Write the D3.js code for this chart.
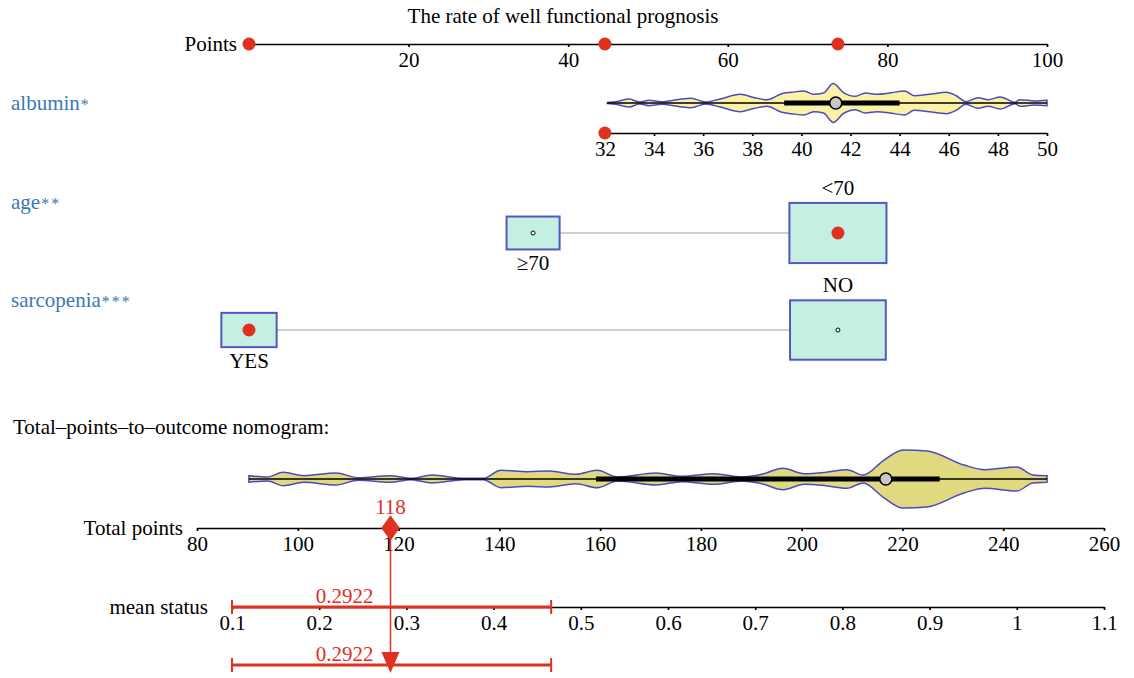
<!DOCTYPE html>
<html>
<meta charset="utf-8">
<style>
body { margin: 0; background: #fff; }
svg text { font-family: 'Liberation Serif', 'DejaVu Serif', serif; font-size: 21px; }
.axis path, .axis line { stroke: #000; stroke-width: 1.7px; }
.axis text { fill: #000; font-size: 21px; font-family: 'Liberation Serif', serif; }
.varlab { fill: #3b78b2; }
.star { font-size: 16px; letter-spacing: 2px; }
.red { fill: #e0301e; }
</style>
<body>
<svg id="chart" width="1134" height="678"></svg>
<script src="https://d3js.org/d3.v7.min.js"></script>
<script>

// ---- data ----
var pointTicks = [20, 40, 60, 80, 100];
var albuminTicks = [32, 34, 36, 38, 40, 42, 44, 46, 48, 50];
var totalTicks = [80, 100, 120, 140, 160, 180, 200, 220, 240, 260];
var meanTicks = [0.1, 0.2, 0.3, 0.4, 0.5, 0.6, 0.7, 0.8, 0.9, 1, 1.1];

// albumin 32..50 maps to points 44.6..100
var albuminRange = [32, 50];
var albuminPoints = [44.6, 100];
// albumin distribution [value, relative density]
var albuminDensity = [
  [32.1, 0.5], [32.5, 1.5], [33.0, 4], [33.4, 1], [33.8, 2.7], [34.3, 1.3],
  [35.0, 3.5], [35.5, 4.7], [36.1, 1], [36.7, 4], [37.5, 8.7], [38.1, 5.3],
  [38.6, 3.3], [39.2, 9.3], [39.6, 10.7], [40.1, 12], [40.5, 8.7], [40.9, 10],
  [41.3, 19.5], [41.7, 10.7], [42.2, 6.7], [42.6, 10], [43.1, 8.7], [43.6, 10],
  [44.2, 12], [44.6, 7.3], [45.2, 8.7], [45.9, 10.7], [46.3, 7.3], [46.7, 1.3],
  [47.2, 5.3], [47.6, 3.3], [48.1, 6], [48.7, 0.7], [48.9, 3.3], [49.5, 2], [50, 2.7]
];
var albuminBox = { q1: 39.3, median: 41.4, q3: 44.0 };

var ageLevels = ["≥70", "<70"];
var agePoints = [35.6, 73.8];
var ageShare = [0.23, 0.77];

var sarcLevels = ["YES", "NO"];
var sarcPoints = [0, 73.8];
var sarcShare = [0.25, 0.75];

// the case shown in red
var chosenAlbumin = 32;
var chosenAge = 1;   // "<70"
var chosenSarc = 0;  // "YES"

// total points distribution [total, relative density]
var totalDensity = [
  [90.3, 3.3], [94, 2], [97.1, 6.7], [101.2, 3.3], [107.6, 6], [112.0, 1.3],
  [118.3, 3.3], [122.5, 0.7], [126.6, 4], [133.0, 0.7], [136.8, 0.7], [140.3, 8.7],
  [145.7, 7.3], [149.9, 8], [155.2, 4.7], [159.4, 8.7], [163.5, 2], [171.1, 6],
  [176.2, 2.7], [182.6, 5.3], [188.0, 2], [192.1, 4.7], [196.3, 10.7], [200.5, 5.3],
  [204.8, 6.7], [209.0, 9.3], [212.2, 4], [216.3, 18.7], [220.1, 29], [224.9, 28],
  [232.2, 14], [236.4, 9.3], [242.7, 12], [245.9, 4], [248.7, 3.3]
];
var totalBox = { q1: 159.2, median: 216.7, q3: 227.4 };

var meanValue = 0.2922;
var meanCI = [0.1, 0.466];

// ---- layout ----
var svg = d3.select("#chart");

var pts = d3.scaleLinear().domain([0, 100]).range([249, 1047]);
var alb = d3.scaleLinear().domain(albuminRange).range(albuminPoints.map(pts));
var tot = d3.scaleLinear().domain([80, 260]).range([197, 1104]);
var mean = d3.scaleLinear().domain([0.1, 1.1]).range([232, 1104]);

var red = "#e0301e";
var violinStroke = "#4a4ac0";

function albToPts(v) {
  return albuminPoints[0] + (v - albuminRange[0]) / (albuminRange[1] - albuminRange[0]) * (albuminPoints[1] - albuminPoints[0]);
}

var chosenPts = [albToPts(chosenAlbumin), agePoints[chosenAge], sarcPoints[chosenSarc]];
var totalChosen = d3.sum(chosenPts);

// title
svg.append("text")
    .attr("x", 563).attr("y", 23)
    .attr("text-anchor", "middle")
    .text("The rate of well functional prognosis");

function drawAxis(scale, ticks, y, fmt) {
  svg.append("g")
      .attr("class", "axis")
      .attr("transform", "translate(0," + y + ")")
      .call(d3.axisBottom(scale).tickValues(ticks).tickSize(3).tickSizeOuter(0).tickFormat(fmt || d3.format("d")))
      .call(function(g) { g.selectAll("text").attr("y", 8); });
}

// Points axis
drawAxis(pts, pointTicks, 44);
svg.append("text").attr("x", 237).attr("y", 51).attr("text-anchor", "end").text("Points");
svg.selectAll(".ptdot")
    .data(chosenPts)
  .enter().append("circle")
    .attr("cx", function(d) { return pts(d); })
    .attr("cy", 44)
    .attr("r", 6.5)
    .attr("fill", red);

// violin helper
function violin(data, scale, cy, maxHalf, fill, box) {
  var w = d3.scaleLinear().domain([0, d3.max(data, function(d) { return d[1]; })]).range([0, maxHalf]);
  var area = d3.area()
      .curve(d3.curveMonotoneX)
      .x(function(d) { return scale(d[0]); })
      .y0(function(d) { return cy - w(d[1]); })
      .y1(function(d) { return cy + w(d[1]); });
  svg.append("path")
      .datum(data)
      .attr("d", area)
      .attr("fill", fill)
      .attr("stroke", violinStroke)
      .attr("stroke-width", 1.5);
  svg.append("line")
      .attr("x1", scale(data[0][0])).attr("x2", scale(data[data.length - 1][0]))
      .attr("y1", cy).attr("y2", cy)
      .attr("stroke", "#000").attr("stroke-width", 1.5);
  svg.append("line")
      .attr("x1", scale(box.q1)).attr("x2", scale(box.q3))
      .attr("y1", cy).attr("y2", cy)
      .attr("stroke", "#000").attr("stroke-width", 5);
  svg.append("circle")
      .attr("cx", scale(box.median)).attr("cy", cy).attr("r", 6)
      .attr("fill", "#c8c8c8").attr("stroke", "#000").attr("stroke-width", 1.5);
}

function varLabel(name, stars, y) {
  var t = svg.append("text").attr("class", "varlab").attr("x", 11).attr("y", y);
  t.append("tspan").text(name);
  t.append("tspan").attr("class", "star").attr("dx", 1).text(stars);
}

// albumin
varLabel("albumin", "*", 110);
violin(albuminDensity, alb, 103, 19.5, "#fcf2a6", albuminBox);
drawAxis(alb, albuminTicks, 133);
svg.append("circle")
    .attr("cx", alb(chosenAlbumin)).attr("cy", 133).attr("r", 6.5)
    .attr("fill", red);

// categorical rows
var side = d3.scaleSqrt().domain([0, 1]).range([0, 110.6]);

function catRow(levels, points, share, chosen, cy) {
  var xs = points.map(pts);
  svg.append("line")
      .attr("x1", xs[0]).attr("x2", xs[1])
      .attr("y1", cy).attr("y2", cy)
      .attr("stroke", "#cfcfcf").attr("stroke-width", 2);
  levels.forEach(function(lv, i) {
    var bw = side(share[i]), bh = bw * 0.62;
    svg.append("rect")
        .attr("x", xs[i] - bw / 2).attr("y", cy - bh / 2)
        .attr("width", bw).attr("height", bh)
        .attr("fill", "#c4f0e4").attr("stroke", "#5656c0").attr("stroke-width", 2);
    if (i === chosen) {
      svg.append("circle").attr("cx", xs[i]).attr("cy", cy).attr("r", 6.5).attr("fill", red);
    } else {
      svg.append("circle").attr("cx", xs[i]).attr("cy", cy).attr("r", 2)
          .attr("fill", "#fff").attr("stroke", "#000").attr("stroke-width", 1);
    }
    svg.append("text")
        .attr("x", xs[i])
        .attr("y", i === 0 ? cy + bh / 2 + 21 : cy - bh / 2 - 8)
        .attr("text-anchor", "middle")
        .text(lv);
  });
}

varLabel("age", "**", 209);
catRow(ageLevels, agePoints, ageShare, chosenAge, 233);

varLabel("sarcopenia", "***", 307);
catRow(sarcLevels, sarcPoints, sarcShare, chosenSarc, 330);

// total points
svg.append("text").attr("x", 13).attr("y", 434).text("Total\u2013points\u2013to\u2013outcome nomogram:");
violin(totalDensity, tot, 479, 29, "#e1d97f", totalBox);
drawAxis(tot, totalTicks, 528);
svg.append("text").attr("x", 183).attr("y", 535).attr("text-anchor", "end").text("Total points");

var tx = tot(totalChosen);
svg.append("line")
    .attr("x1", tx).attr("x2", tx).attr("y1", 528).attr("y2", 656)
    .attr("stroke", red).attr("stroke-width", 1.5);
svg.append("path")
    .attr("d", d3.symbol().type(d3.symbolDiamond).size(190))
    .attr("transform", "translate(" + tx + ",528) scale(1.25,1)")
    .attr("fill", red);
svg.append("text").attr("class", "red")
    .attr("x", tx).attr("y", 514).attr("text-anchor", "middle")
    .text(d3.format("d")(totalChosen));

// mean status
drawAxis(mean, meanTicks, 607, function(d) { return d3.format("")(d); });
svg.append("text").attr("x", 208).attr("y", 614).attr("text-anchor", "end").text("mean status");

function ciBar(y) {
  var x0 = mean(meanCI[0]), x1 = mean(meanCI[1]);
  svg.append("line").attr("x1", x0).attr("x2", x1).attr("y1", y).attr("y2", y)
      .attr("stroke", red).attr("stroke-width", 3);
  [x0, x1].forEach(function(x) {
    svg.append("line").attr("x1", x).attr("x2", x).attr("y1", y - 7).attr("y2", y + 7)
        .attr("stroke", red).attr("stroke-width", 2);
  });
  svg.append("text").attr("class", "red")
      .attr("x", (x0 + x1) / 2 - 47).attr("y", y - 4).attr("text-anchor", "middle")
      .text(meanValue.toFixed(4));
}
ciBar(607);
ciBar(665);

svg.append("path")
    .attr("d", "M" + (tx - 9) + ",652L" + (tx + 9) + ",652L" + tx + ",673Z")
    .attr("fill", red);

</script>
</body>
</html>
